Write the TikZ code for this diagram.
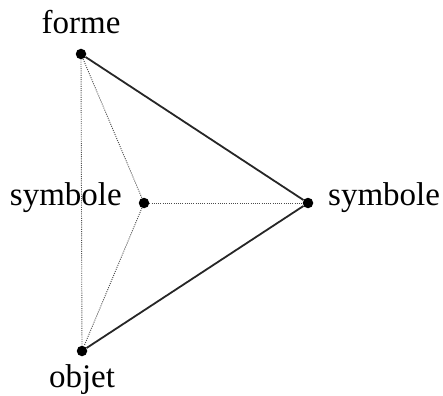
\documentclass[tikz,border=0pt]{standalone}
\usepackage{fontspec}
\setmainfont{Liberation Serif}
\usetikzlibrary{positioning}

\begin{document}
\begin{tikzpicture}[
		x=1pt, y=-1pt,
		dot/.style={circle, fill=black, minimum size=10.5pt, inner sep=0pt},
		word/.style={font=\fontsize{33}{36}\selectfont, inner sep=0pt},
		solidline/.style={line width=1.8pt, black!85},
		dotline/.style={line width=0.9pt, black!70, dash pattern=on 1pt off 1.2pt}
		]
		
		% Frame of the picture
		\useasboundingbox (0,0) rectangle (443,395);
		
		% The four points of the figure
		\node[dot] (forme)  at (81,54)   {};
		\node[dot] (centre) at (144,203) {};
		\node[dot] (droite) at (308,203) {};
		\node[dot] (objet)  at (82,351)  {};
		
		% Labels of the points
		\node[word, anchor=base]     (lforme)  at (81,34)   {forme};
		\node[word, anchor=mid east] (lcentre) at (122,203) {symbole};
		\node[word, anchor=mid west] (ldroite) at (328,203) {symbole};
		\node[word, anchor=base]     (lobjet)  at (82,387)  {objet};
		
		% --- Dotted edges ---
		\draw[dotline] (forme) -- (objet);
		\draw[dotline] (forme) -- (centre);
		\draw[dotline] (centre) -- (objet);
		\draw[dotline] (centre) -- (droite);
		
		% --- Solid edges ---
		\draw[solidline] (forme) -- (droite);
		\draw[solidline] (droite) -- (objet);
		
	\end{tikzpicture}
\end{document}
